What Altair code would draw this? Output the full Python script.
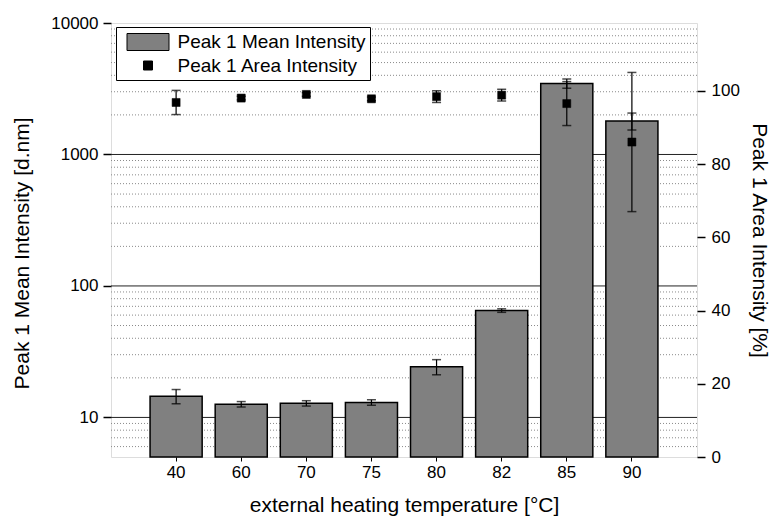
import altair as alt
import pandas as pd

temps = ["40", "60", "70", "75", "80", "82", "85", "90"]
mean_int = [14.5, 12.6, 12.8, 13.0, 24.3, 65.0, 3470, 1800]
mean_err = [1.8, 0.6, 0.6, 0.6, 3.2, 2.0, 280, 265]
area_int = [96.8, 98.0, 99.0, 97.8, 98.4, 98.8, 96.5, 86.0]
area_err = [3.3, 0.5, 0.5, 0.5, 1.6, 1.6, 6.0, 19.0]

grid_major = [10, 100, 1000]
grid_minor = [6, 7, 8, 9, 20, 30, 40, 50, 60, 70, 80, 90,
              200, 300, 400, 500, 600, 700, 800, 900,
              2000, 3000, 4000, 5000, 6000, 7000, 8000, 9000]
left_ticks = [10, 100, 1000, 10000]
left_domain = [5, 10000]
right_ticks = [0, 20, 40, 60, 80, 100]
right_domain = [0, 118.5]

L1 = "Peak 1 Mean Intensity"
L2 = "Peak 1 Area Intensity"

df = pd.DataFrame({
    "temp": temps,
    "mean": mean_int,
    "mlo": [m - e for m, e in zip(mean_int, mean_err)],
    "mhi": [m + e for m, e in zip(mean_int, mean_err)],
    "area": area_int,
    "alo": [a - e for a, e in zip(area_int, area_err)],
    "ahi": [a + e for a, e in zip(area_int, area_err)],
    "series": [L2] * len(temps),
})
gmaj = pd.DataFrame({"v": grid_major})
gmin = pd.DataFrame({"v": grid_minor})

FONT = "Liberation Sans"

xscale = alt.Scale(paddingInner=0.2, paddingOuter=0.6)
xaxis = alt.Axis(title="external heating temperature [°C]", labelAngle=0,
                 labelFontSize=17, titleFontSize=21, tickSize=4, tickWidth=1,
                 tickColor="black", labelPadding=3, titlePadding=14,
                 domain=False, grid=False, labelColor="black", titleColor="black",
                 titleFontWeight="normal")
X = alt.X("temp:N", sort=temps, scale=xscale, axis=xaxis)

lscale = alt.Scale(type="log", domain=left_domain, nice=False)
laxis = alt.Axis(title="Peak 1 Mean Intensity [d.nm]", values=left_ticks, format="d",
                 orient="left", labelFontSize=17, titleFontSize=21, tickSize=8,
                 tickWidth=1.5, tickColor="black", labelPadding=5, titlePadding=18,
                 titleY=230, domain=False, grid=False, labelColor="black",
                 titleColor="black", titleFontWeight="normal")

rscale = alt.Scale(domain=right_domain, nice=False, zero=False)
raxis = alt.Axis(title="Peak 1 Area Intensity [%]", values=right_ticks, format="d",
                 orient="right", labelFontSize=17, titleFontSize=21, tickSize=8,
                 tickWidth=1.5, tickColor="black", labelPadding=6, titlePadding=9,
                 domain=False, grid=False, labelColor="black", titleColor="black",
                 titleFontWeight="normal")

minor = alt.Chart(gmin).mark_rule(color="#8a8a8a", strokeWidth=1, strokeDash=[1, 2]).encode(
    y=alt.Y("v:Q", scale=lscale, axis=laxis))
major = alt.Chart(gmaj).mark_rule(color="#222222", strokeWidth=1).encode(
    y=alt.Y("v:Q", scale=lscale, axis=laxis))

base = alt.Chart(df)
bars = base.mark_bar(color="#808080", stroke="black", strokeWidth=1.5).encode(
    x=X, y=alt.Y("mean:Q", scale=lscale, axis=laxis), y2=alt.datum(left_domain[0]))
merr = base.mark_rule(color="black", strokeWidth=1.2).encode(
    x=X, y=alt.Y("mlo:Q", scale=lscale, axis=laxis), y2="mhi:Q")
mcap1 = base.mark_tick(color="black", size=9, thickness=1.5).encode(
    x=X, y=alt.Y("mlo:Q", scale=lscale, axis=laxis))
mcap2 = base.mark_tick(color="black", size=9, thickness=1.5).encode(
    x=X, y=alt.Y("mhi:Q", scale=lscale, axis=laxis))

left = alt.layer(minor, major, bars, merr, mcap1, mcap2)

rect_path = "M-2.1,-0.85H2.1V0.85H-2.1Z"
sq_path = "M-0.45,-0.45H0.45V0.45H-0.45Z"
SYM = 400

aerr = base.mark_rule(color="black", strokeWidth=1.2).encode(
    x=X, y=alt.Y("alo:Q", scale=rscale, axis=raxis), y2="ahi:Q")
acap1 = base.mark_tick(color="black", size=9, thickness=1.5).encode(
    x=X, y=alt.Y("alo:Q", scale=rscale, axis=raxis))
acap2 = base.mark_tick(color="black", size=9, thickness=1.5).encode(
    x=X, y=alt.Y("ahi:Q", scale=rscale, axis=raxis))
legend = alt.Legend(title=None, orient="none", legendX=5, legendY=4, strokeColor="black",
                    fillColor="white", padding=4.5, labelFontSize=19, labelFont=FONT,
                    labelColor="black", symbolSize=SYM, symbolStrokeColor="black",
                    symbolStrokeWidth=1, symbolOffset=17, labelOffset=19, rowPadding=2.5,
                    labelLimit=400, cornerRadius=0,
                    labelExpr="datum.label + '\u2002'")
pts = base.mark_point(filled=True, size=320, opacity=1, stroke="black", strokeWidth=0.5).encode(
    x=X,
    y=alt.Y("area:Q", scale=rscale, axis=raxis),
    color=alt.Color("series:N", scale=alt.Scale(domain=[L1, L2], range=["#808080", "black"]),
                    legend=legend),
    shape=alt.Shape("series:N", scale=alt.Scale(domain=[L1, L2], range=[rect_path, sq_path]),
                    legend=legend),
)
right = alt.layer(aerr, acap1, acap2, pts)

chart = alt.layer(left, right).resolve_scale(y="independent").properties(
    width=586, height=434,
    autosize=alt.AutoSizeParams(type="none"),
    padding={"left": 111, "top": 23, "right": 76, "bottom": 63},
).configure_view(stroke="black", strokeWidth=1.5).configure(font=FONT)

chart.save("out.html", embed_options={"renderer": "svg", "actions": False})
